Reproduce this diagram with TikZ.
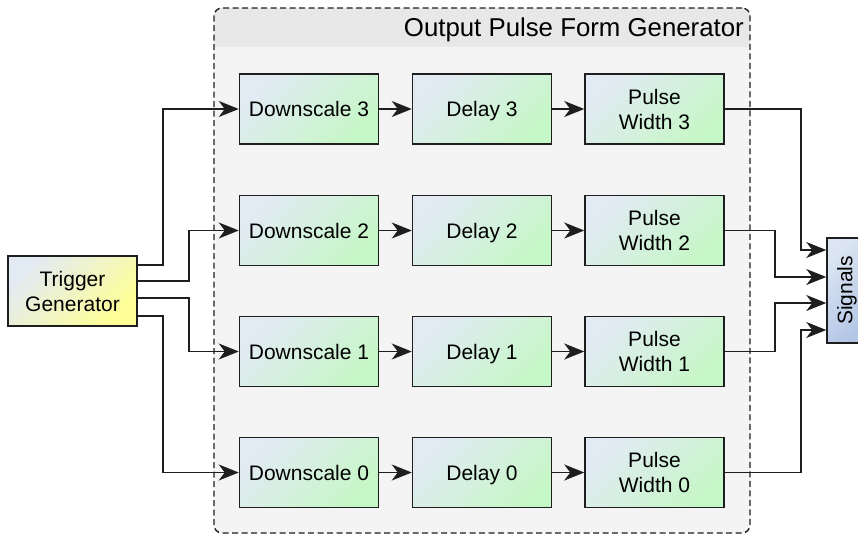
\documentclass[tikz,border=0pt]{standalone}
\usepackage{fontspec}
\usepackage{graphicx}
\setmainfont{Liberation Sans}
\usetikzlibrary{arrows.meta,calc}
\definecolor{boxtop}{HTML}{E2EAF4}
\definecolor{boxbot}{HTML}{C6F7C6}
\definecolor{trigbot}{HTML}{FFFF96}
\definecolor{sigtop}{HTML}{DCE6F2}
\definecolor{sigbot}{HTML}{B4C6E6}
\definecolor{contfill}{HTML}{F4F4F4}
\definecolor{hdrfill}{HTML}{E8E8E8}
\definecolor{edge}{HTML}{1E1E1E}
\tikzset{
  proc/.style={draw=edge, line width=1.5pt, minimum width=139pt, minimum height=70pt,
    inner sep=0pt, align=center, top color=boxtop, bottom color=boxbot, shading angle=45,
    font=\fontsize{21}{25}\selectfont},
  oneline/.style={text height=15pt, text depth=0pt},
  trigbox/.style={draw=edge, line width=1.5pt, minimum width=129pt, minimum height=70pt,
    inner sep=0pt, align=center, top color=boxtop, bottom color=trigbot, shading angle=45,
    font=\fontsize{21}{25}\selectfont},
  sigbox/.style={draw=edge, line width=1.5pt, minimum width=40pt, minimum height=105pt,
    inner sep=0pt, top color=sigtop, bottom color=sigbot, shading angle=45,
    font=\fontsize{21}{25}\selectfont},
  conn/.style={draw=edge, line width=1.7pt, -{Stealth[length=20pt,width=16pt,inset=6pt]}},
  cont/.style={draw=edge, line width=1.4pt, dash pattern=on 6pt off 3.5pt, rounded corners=8pt},
}
\begin{document}
\begin{tikzpicture}[x=1pt,y=-1pt]
\useasboundingbox (0,0) rectangle (858,536);
% container
\fill[contfill, rounded corners=8pt] (214,8) rectangle (750,533);
\begin{scope}
  \clip[rounded corners=8pt] (214,8) rectangle (750,533);
  \fill[hdrfill] (214,8) rectangle (750,47);
\end{scope}
\node[cont, minimum width=536pt, minimum height=525pt, inner sep=0pt] (ofg) at (482,270.5) {};
\node[anchor=east, inner sep=0pt, font=\fontsize{25.8}{30}\selectfont] (title) at (744,30) {Output Pulse Form Generator};
% blocks
\node[proc,oneline] (ds3) at (309,109) {Downscale 3};
\node[proc,oneline] (dl3) at (482,109) {Delay 3};
\node[proc] (pw3) at (654.5,109) {Pulse\\Width 3};
\node[proc,oneline] (ds2) at (309,230.5) {Downscale 2};
\node[proc,oneline] (dl2) at (482,230.5) {Delay 2};
\node[proc] (pw2) at (654.5,230.5) {Pulse\\Width 2};
\node[proc,oneline] (ds1) at (309,351.5) {Downscale 1};
\node[proc,oneline] (dl1) at (482,351.5) {Delay 1};
\node[proc] (pw1) at (654.5,351.5) {Pulse\\Width 1};
\node[proc,oneline] (ds0) at (309,472.5) {Downscale 0};
\node[proc,oneline] (dl0) at (482,472.5) {Delay 0};
\node[proc] (pw0) at (654.5,472.5) {Pulse\\Width 0};
\node[trigbox] (trig) at (72.5,291) {Trigger\\Generator};
\node[sigbox] (sig) at (847,290.5) {\rotatebox{90}{Signals}};
% row connections
\foreach \r in {0,1,2,3}{
  \draw[conn] (ds\r) -- (dl\r);
  \draw[conn] (dl\r) -- (pw\r);
}
% trigger to downscalers
\draw[conn] ([yshift=26pt]trig.east) -- ++(25,0) |- (ds3.west);
\draw[conn] ([yshift=10pt]trig.east) -- ++(51,0) |- (ds2.west);
\draw[conn] ([yshift=-7pt]trig.east) -- ++(51,0) |- (ds1.west);
\draw[conn] ([yshift=-25pt]trig.east) -- ++(25,0) |- (ds0.west);
% pulse widths to signals
\draw[conn] (pw3.east) -| ([xshift=-25pt,yshift=40.5pt]sig.west) -- ([yshift=40.5pt]sig.west);
\draw[conn] (pw2.east) -| ([xshift=-51pt,yshift=13.5pt]sig.west) -- ([yshift=13.5pt]sig.west);
\draw[conn] (pw1.east) -| ([xshift=-51pt,yshift=-12.5pt]sig.west) -- ([yshift=-12.5pt]sig.west);
\draw[conn] (pw0.east) -| ([xshift=-25pt,yshift=-39.5pt]sig.west) -- ([yshift=-39.5pt]sig.west);
\end{tikzpicture}
\end{document}
